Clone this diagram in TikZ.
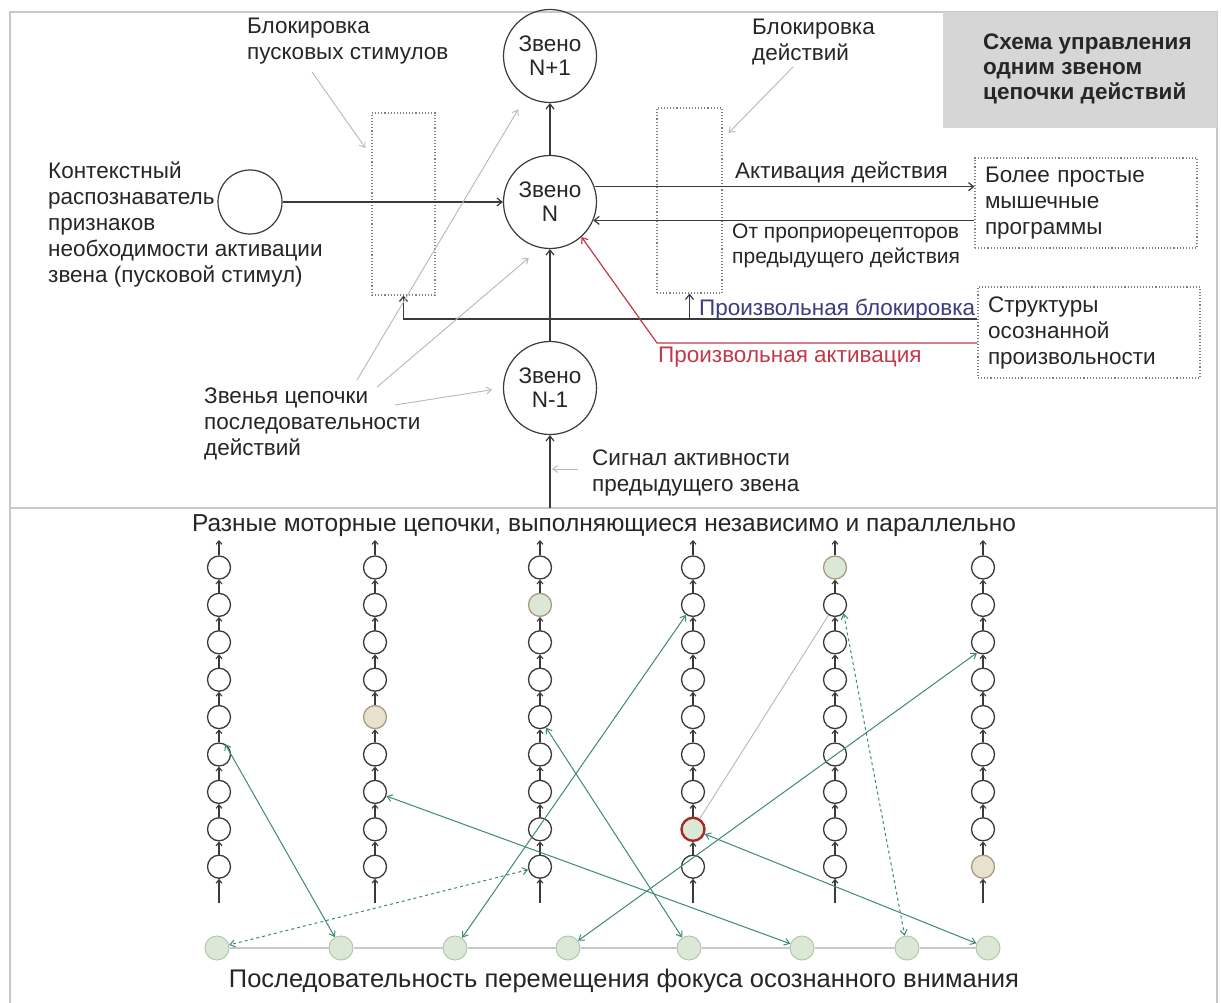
\documentclass[tikz,border=0pt]{standalone}
\usepackage{fontspec}
\setmainfont{Liberation Sans}
\usetikzlibrary{arrows.meta,calc}

\definecolor{framec}{HTML}{C8C8C8}
\definecolor{titlebg}{HTML}{D6D6D6}
\definecolor{ink}{HTML}{3A3A3A}
\definecolor{txtc}{HTML}{262626}
\definecolor{leadc}{HTML}{B8B8B8}
\definecolor{blkc}{HTML}{3C3C80}
\definecolor{actc}{HTML}{C03A4A}
\definecolor{focus}{HTML}{3E8A70}
\definecolor{spotfill}{HTML}{DCE8D6}
\definecolor{spotline}{HTML}{B3C7AE}
\definecolor{tanfill}{HTML}{E8E1CD}
\definecolor{tanline}{HTML}{A89B80}
\definecolor{ringred}{HTML}{A82828}

\tikzset{
  txt/.style={align=left, anchor=north west, inner sep=0pt,
    font=\fontsize{22.5}{26}\selectfont, text=txtc},
  bigtxt/.style={inner sep=0pt, font=\fontsize{24.5}{28}\selectfont, text=txtc},
  bignode/.style={circle, draw=ink, line width=1.2pt, minimum size=93pt,
    inner sep=0pt, align=center, font=\fontsize{22.5}{24}\selectfont, text=txtc},
  dotbox/.style={draw=gray, dotted, line width=1.1pt, inner sep=0pt},
  titlebox/.style={fill=titlebg, anchor=north west, minimum width=274pt,
    minimum height=116pt, inner sep=0pt},
  titletxt/.style={txt, font=\bfseries\fontsize{22.5}{25}\selectfont},
  conn/.style={draw=ink, line width=1.2pt, -{Straight Barb[length=5pt,width=8pt]}},
  leader/.style={draw=leadc, line width=0.9pt, -{Straight Barb[length=5pt,width=7pt]}},
  chainarrow/.style={draw=ink, line width=1.1pt, -{Straight Barb[length=3.5pt,width=6pt]}},
  focusarrow/.style={draw=focus, line width=1pt,
    {Straight Barb[length=5pt,width=7pt]}-{Straight Barb[length=5pt,width=7pt]}},
  cnode/.style={circle, draw=ink, line width=1.3pt, minimum size=23pt, inner sep=0pt},
  cnodetan/.style={fill=tanfill, draw=tanline},
  cnodegreen/.style={fill=spotfill, draw=tanline},
  cnodered/.style={fill=spotfill, draw=ringred, line width=2.4pt},
  spot/.style={circle, fill=spotfill, draw=spotline, line width=1pt, minimum size=24pt, inner sep=0pt},
  rowline/.style={draw=framec, line width=1.2pt},
}

\begin{document}
\begin{tikzpicture}[x=1pt,y=-1pt]
\useasboundingbox (0,0) rectangle (1221,1003);
\fill[white] (0,0) rectangle (1221,1003);

% outer frame and the separator between the two panels
\draw[framec, line width=1.5pt] (10,1003) -- (10,12) -- (1217,12) -- (1217,1003);
\draw[framec, line width=2pt] (10,508) -- (1217,508);

% ---------- upper panel: control of one link ----------
\node[titlebox] (title) at (943,12) {};
\node[titletxt] (titletext) at (983,34) {Схема управления\\одним звеном\\цепочки действий};

\node[bignode] (nup)  at (550,56)  {Звено\\N+1};
\node[bignode] (nmid) at (550,202) {Звено\\N};
\node[bignode] (ndn)  at (550,388) {Звено\\N-1};

\node[circle, draw=ink, line width=1.2pt, minimum size=64pt, inner sep=0pt] (ctx) at (250,202) {};
\node[txt] (ctxlabel) at (48,162) {Контекстный\\распознаватель\\признаков\\необходимости активации\\звена (пусковой стимул)};

\node[dotbox, minimum width=63pt, minimum height=182pt] (lbox) at (403.5,204) {};
\node[dotbox, minimum width=65pt, minimum height=185pt] (rbox) at (689.5,200.5) {};

\node[dotbox, txt, anchor=center, text width=202pt, inner xsep=10pt, minimum height=90pt] (muscle) at (1086,203)
  {Более простые\\мышечные\\программы};
\node[dotbox, txt, anchor=center, text width=202pt, inner xsep=10pt, minimum height=91pt] (struct) at (1089,332.5)
  {Структуры\\осознанной\\произвольности};

\node[txt] (lblock) at (247,18) {Блокировка\\пусковых стимулов};
\node[txt] (rblock) at (752,19) {Блокировка\\действий};
\node[txt] (actlabel) at (735,162) {Активация действия};
\node[txt, font=\fontsize{21}{25}\selectfont] (proplabel) at (732,224) {От проприорецепторов\\предыдущего действия};
\node[txt, text=blkc] (vblock) at (699,299) {Произвольная блокировка};
\node[txt, text=actc] (vact) at (658,347) {Произвольная активация};
\node[txt] (linkslabel) at (204,388) {Звенья цепочки\\последовательности\\действий};
\node[txt] (siglabel) at (592,450) {Сигнал активности\\предыдущего звена};

% signal flow through the link
\draw[conn] (ctx) -- (nmid);
\draw[conn] (nmid) -- (nup);
\draw[conn] (ndn) -- (nmid);
\coordinate (sig) at (550,508);
\draw[conn] (sig) -- (ndn);
\draw[conn] (nmid.19) -- (nmid.19 -| muscle.west);
\draw[conn] (muscle.west |- nmid.-23) -- (nmid.-23);

% voluntary blocking and activation
\draw[conn] (struct.west |- 0,319) -- (lbox.south |- 0,319) -- (lbox.south);
\draw[conn] (rbox.south |- 0,319) -- (rbox.south);
\coordinate (bend) at (657,343);
\draw[conn, draw=actc] (struct.west |- bend) -- (bend) -- (nmid.-48);

% grey pointers from the labels
\coordinate (lb1) at (312,72);
\draw[leader] (lb1) -- ($(lbox.west |- 0,148)+(-6,0)$);
\coordinate (lb2) at (793,67);
\draw[leader] (lb2) -- ($(rbox.east |- 0,133)+(6,0)$);
\coordinate (z1) at (357,380);
\draw[leader, shorten >=15pt] (z1) -- (nup);
\coordinate (z2) at (377,387);
\draw[leader, shorten >=15pt] (z2) -- (nmid.-102);
\coordinate (z3) at (395,405);
\draw[leader, shorten >=11pt] (z3) -- (ndn.west);
\coordinate (sg) at (578,469);
\draw[leader, shorten >=2pt] (sg) -- (sg -| sig);

% ---------- lower panel: parallel motor chains ----------
\node[bigtxt] (chainstitle) at (604,526) {Разные моторные цепочки, выполняющиеся независимо и параллельно};
\node[bigtxt, font=\fontsize{25.5}{29}\selectfont] (focustitle) at (624,981) {Последовательность перемещения фокуса осознанного внимания};

\foreach \cx/\hk/\hs [count=\i] in {219/0/cnode,375/5/cnodetan,540/2/cnodegreen,693/8/cnodered,835/1/cnodegreen,983/9/cnodetan}{
  \foreach \k in {1,...,9}{
    \ifnum\k=\hk\relax \def\st{\hs}\else\def\st{cnode}\fi
    \node[cnode,\st] (c\i-\k) at (\cx,{567.5+37.4*(\k-1)}) {};
  }
  \coordinate (top\i) at (\cx,540);
  \coordinate (bot\i) at (\cx,903);
  \draw[chainarrow] (c\i-1) -- (top\i);
  \foreach \k [remember=\k as \kp (initially 1)] in {2,...,9}
    \draw[chainarrow] (c\i-\k) -- (c\i-\kp);
  \draw[chainarrow] (bot\i) -- (c\i-9);
}

% sequence of attention focus positions
\foreach \bx [count=\j] in {217,341,455,568,689,802,907,988}
  \node[spot] (f\j) at (\bx,948) {};
\foreach \j [remember=\j as \jp (initially 1)] in {2,...,8}
  \draw[rowline] (f\jp) -- (f\j);

\draw[focusarrow, dashed] (c3-9) -- (f1);
\draw[focusarrow] (c1-6.60) -- (f2);
\draw[focusarrow] (f3) -- (c4-2);
\draw[focusarrow] (f4) -- (c6-3.-120);
\draw[focusarrow] (c3-5.-60) -- (f5);
\draw[focusarrow] (c2-7) -- (f6);
\draw[focusarrow, dashed] (c5-2.-45) -- (f7);
\draw[focusarrow] (c4-8) -- (f8);
\draw[leadc, line width=0.9pt] (c4-8) -- (c5-2);
\end{tikzpicture}
\end{document}
